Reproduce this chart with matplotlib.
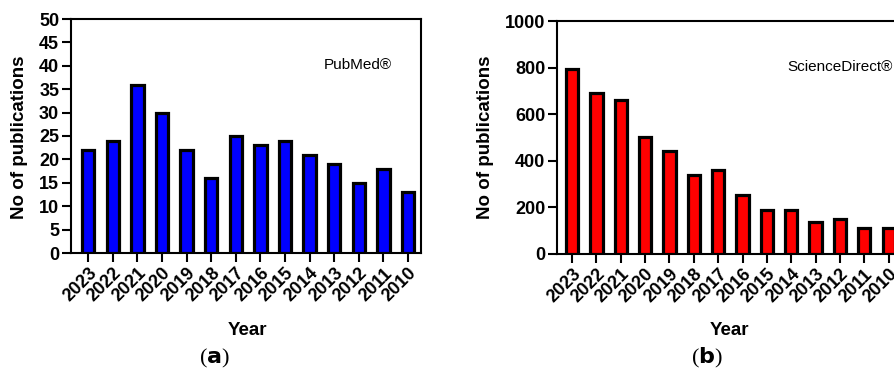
import matplotlib
matplotlib.use("Agg")
import matplotlib.pyplot as plt
import numpy as np

plt.rcParams["font.family"] = ["Liberation Sans", "DejaVu Sans"]

# --------------------------------------------------------------------------- #
# data
# --------------------------------------------------------------------------- #
years = ["2023", "2022", "2021", "2020", "2019", "2018", "2017",
         "2016", "2015", "2014", "2013", "2012", "2011", "2010"]
pubmed_counts = [22, 24, 36, 30, 22, 16, 25, 23, 24, 21, 19, 15, 18, 13]
sciencedirect_counts = [795, 693, 663, 502, 442, 339, 360,
                        252, 189, 189, 137, 150, 112, 112]


def draw_panel(ax, counts, color, ymax, yticks, source, xlim):
    x = np.arange(len(years))
    ax.bar(x, counts, width=0.5, color=color, edgecolor="black",
           linewidth=2.3, zorder=3)
    ax.set_xlim(*xlim)
    ax.set_ylim(0, ymax)
    ax.set_yticks(yticks)
    ax.set_xticks(x)
    ax.set_xticklabels(years, rotation=45, ha="right", rotation_mode="anchor",
                       fontweight="bold", fontsize=13)
    for lab in ax.get_yticklabels():
        lab.set_fontweight("bold")
        lab.set_fontsize(13)
    ax.tick_params(axis="both", direction="out", length=6.5, width=1.5,
                   pad=2, top=False, right=False)
    for sp in ax.spines.values():
        sp.set_linewidth(1.5)
    ax.set_xlabel("Year", fontweight="bold", fontsize=13.5)
    ax.set_ylabel("No of publications", fontweight="bold", fontsize=13.5)
    ax.text(0.82, 0.803, source, transform=ax.transAxes,
            ha="center", va="center", fontsize=11)


W, H = 895, 378
fig = plt.figure(figsize=(W / 100, H / 100), dpi=100)

ax1 = fig.add_axes([71 / W, 1 - 253 / H, 350 / W, 234 / H])
draw_panel(ax1, pubmed_counts, "#0000ff", 50, np.arange(0, 51, 5),
           "PubMed®", (-0.7, 13.53))
ax1.xaxis.set_label_coords(0.503, -0.295)
ax1.yaxis.set_label_coords(-0.123, 0.494)

ax2 = fig.add_axes([557 / W, 1 - 254 / H, 345 / W, 233 / H])
draw_panel(ax2, sciencedirect_counts, "#ff0000", 1000, np.arange(0, 1001, 200),
           "ScienceDirect®", (-0.62, 13.55))
ax2.xaxis.set_label_coords(0.50, -0.292)
ax2.yaxis.set_label_coords(-0.183, 0.5)

# panel captions
fig.text(214 / W, 1 - 358 / H, r"($\mathbf{a}$)", ha="center", va="center",
         fontsize=16, family="Liberation Serif")
fig.text(707 / W, 1 - 358 / H, r"($\mathbf{b}$)", ha="center", va="center",
         fontsize=16, family="Liberation Serif")

fig.savefig("out.png", dpi=100)
plt.close(fig)
